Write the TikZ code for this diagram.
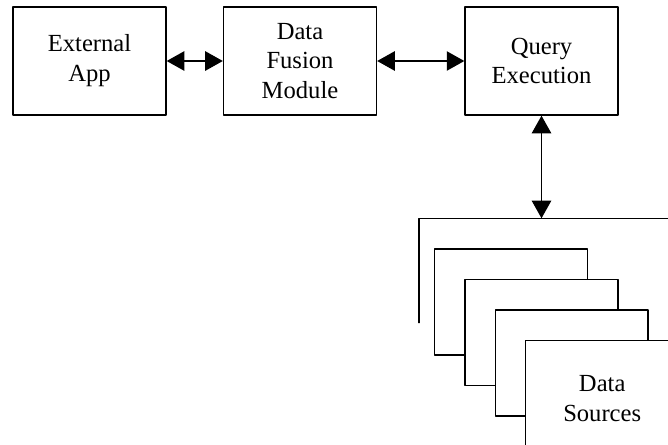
\documentclass[tikz,border=0pt]{standalone}
\usepackage{fontspec}
\setmainfont{Liberation Serif}
\usetikzlibrary{arrows.meta}

\tikzset{
  box/.style={draw,line width=0.8pt,fill=white,minimum width=3.06cm,minimum height=2.16cm,
    align=center,inner sep=0pt,font=\fontsize{14}{17}\selectfont},
  sheet/.style={box,minimum height=2.12cm},
  link/.style={line width=0.8pt,{Triangle[length=10pt,width=11pt]}-{Triangle[length=10pt,width=11pt]}}
}

\begin{document}
\begin{tikzpicture}[line cap=round,line join=round,x=0.02cm,y=-0.02cm]
\clip (0,0) rectangle (668,444);
\node[box] (ext) at (89.5,61) {External\\App};
\node[box] (fusion) at (300,61) {Data\\Fusion\\Module};
\node[box] (query) at (541.5,61) {Query\\Execution};
\draw [link] (ext.east)-- (fusion.west);
\draw [link] (fusion.east)-- (query.west);
% stack of sources, back to front
\coordinate (backbot) at (419,322.7);
\coordinate (backtop) at (419,218.3);
\coordinate (backend) at (700,218.3);
\coordinate (backin) at (541.5,218.3);
\draw [line width=0.8pt] (backbot)-- (backtop)-- (backend);
\draw [link] (query.south)-- (backin);
\node[sheet] (sheetb) at (510.8,302) {};
\node[sheet] (sheetc) at (541.3,332.7) {};
\node[sheet] (sheetd) at (571.7,363) {};
% front sheet runs past the bottom edge
\node[sheet,minimum height=2.32cm] (src) at (602.2,398.3) {Data\\Sources};
\end{tikzpicture}
\end{document}
